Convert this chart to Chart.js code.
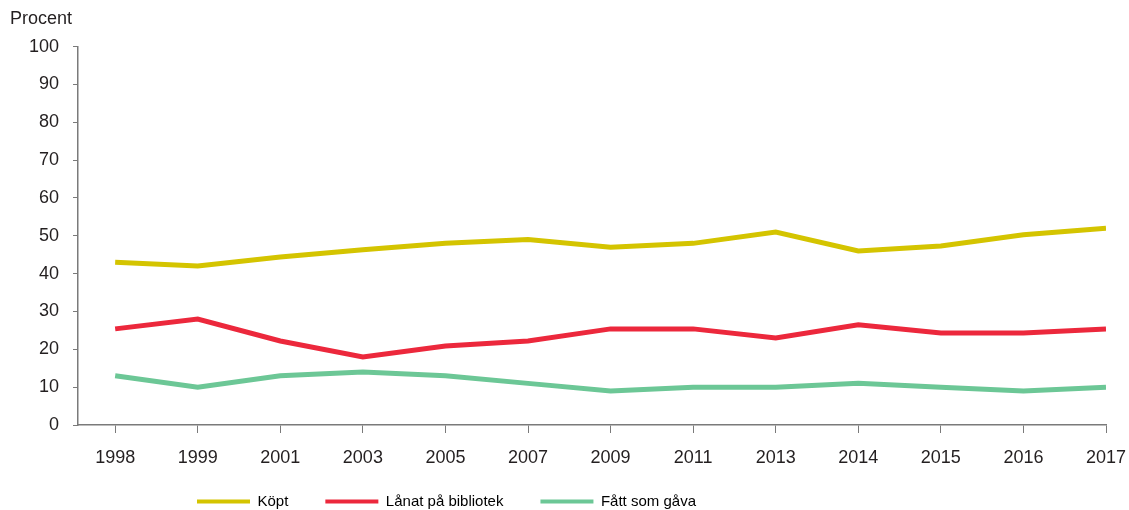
<!DOCTYPE html>
<html>
<head>
<meta charset="utf-8">
<script src="https://cdn.jsdelivr.net/npm/chart.js@4/dist/chart.umd.min.js"></script>
<style>
html,body{margin:0;padding:0;background:#fff;}
#wrap{width:1129px;height:510px;position:relative;}
</style>
</head>
<body>
<div id="wrap"><canvas id="c" width="1129" height="510"></canvas></div>
<script>
const years = ["1998","1999","2001","2003","2005","2007","2009","2011","2013","2014","2015","2016","2017"];
const kopt = [43, 42, 44.4, 46.3, 48, 49, 47, 48, 51, 46, 47.3, 50.3, 52];
const lanat = [25.4, 28, 22.2, 18, 20.9, 22.2, 25.4, 25.4, 23, 26.5, 24.3, 24.3, 25.4];
const fatt = [13, 10, 13, 14, 13, 11, 9, 10, 10, 11, 10, 9, 10];
const seriesNames = ["Köpt", "Lånat på bibliotek", "Fått som gåva"];
const seriesColors = ["#d4c400", "#ec283c", "#6cc796"];
const yTicks = [0,10,20,30,40,50,60,70,80,90,100];

const textColor = "#231f20";
const axisColor = "#7a7a7a";
const FONT = "'Liberation Sans', Arial, sans-serif";

const toXY = arr => arr.map((v, i) => ({x: i, y: v}));
const seriesData = [kopt, lanat, fatt];

const layoutTweak = {
  id: 'layoutTweak',
  afterLayout(chart) {
    const lg = chart.legend;
    if (lg) { lg.left = 160; }
    const xs = chart.scales.x;
    if (xs) { xs.bottom = chart.height; }
  }
};

new Chart(document.getElementById('c'), {
  type: 'line',
  data: {
    datasets: seriesData.map((d, k) => ({
      label: seriesNames[k],
      data: toXY(d),
      borderColor: seriesColors[k],
      backgroundColor: seriesColors[k],
      borderWidth: 5,
      pointRadius: 0,
      tension: 0,
      fill: false
    }))
  },
  options: {
    responsive: false,
    animation: false,
    layout: {padding: {left: 10, right: 23, top: 0, bottom: -9}},
    plugins: {
      title: {
        display: true,
        text: 'Procent',
        align: 'start',
        color: textColor,
        font: {family: FONT, size: 18, weight: 'normal'},
        padding: {top: 8, bottom: 17}
      },
      legend: {
        display: true,
        position: 'bottom',
        align: 'start',
        labels: {
          color: textColor,
          font: {family: FONT, size: 15},
          boxWidth: 53,
          boxHeight: 4,
          padding: 37,
          generateLabels(chart) {
            return chart.data.datasets.map((ds, i) => ({
              text: ds.label,
              fillStyle: ds.borderColor,
              strokeStyle: ds.borderColor,
              lineWidth: 0,
              datasetIndex: i,
              hidden: false
            }));
          }
        }
      },
      tooltip: {enabled: false}
    },
    scales: {
      x: {
        type: 'linear',
        min: -0.45,
        max: years.length - 1,
        afterBuildTicks(scale) {
          scale.ticks = years.map((_, i) => ({value: i}));
        },
        afterFit(scale) { scale.height = 32; scale.paddingRight = 0; scale.paddingLeft = 0; },
        ticks: {
          autoSkip: false,
          maxRotation: 0,
          color: textColor,
          padding: 14,
          font: {family: FONT, size: 18},
          callback: (v) => years[v]
        },
        grid: {display: true, drawOnChartArea: false, drawTicks: true, tickLength: 8, color: axisColor, lineWidth: 1},
        border: {display: true, color: axisColor, width: 1.5}
      },
      y: {
        min: 0,
        max: 100,
        afterBuildTicks(scale) {
          scale.ticks = yTicks.map(v => ({value: v}));
        },
        afterFit(scale) { scale.width = 68; },
        ticks: {
          color: textColor,
          padding: 14,
          font: {family: FONT, size: 18}
        },
        grid: {display: true, drawOnChartArea: false, drawTicks: true, tickLength: 5, color: axisColor, lineWidth: 1},
        border: {display: true, color: axisColor, width: 1.5}
      }
    }
  },
  plugins: [layoutTweak]
});
</script>
</body>
</html>
